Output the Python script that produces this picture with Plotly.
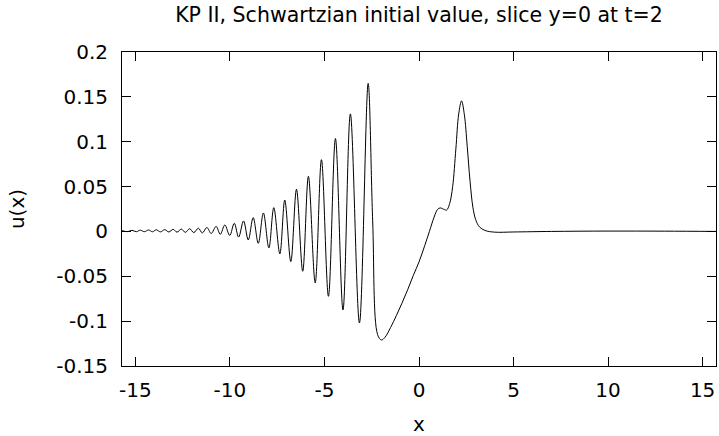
import math
import plotly.graph_objects as go

# ---- data (slice y=0 at t=2) ----
x_tail = [-15.708, -15.40, -15.18, -14.95, -14.74, -14.53, -14.30, -14.10, -13.90, -13.67,
          -13.45, -13.23, -13.00, -12.80, -12.57, -12.36, -12.13, -11.91, -11.67, -11.46,
          -11.22, -10.99, -10.73, -10.51, -10.27, -10.01, -9.77, -9.54, -9.28, -9.03,
          -8.77, -8.50, -8.23, -7.94, -7.68, -7.36, -7.10, -6.78, -6.48, -6.15,
          -5.85, -5.49, -5.16, -4.79, -4.42, -4.02, -3.63, -3.15, -2.69, -2.45,
          -2.19]
u_tail = [0.0008, -0.0002, 0.0012, -0.0003, 0.0014, -0.0003, 0.0016, -0.0004, 0.0018, -0.0005,
          0.0020, -0.0006, 0.0023, -0.0008, 0.0026, -0.0010, 0.0030, -0.0013, 0.0036, -0.0017,
          0.0044, -0.0023, 0.0056, -0.0032, 0.0072, -0.0045, 0.0091, -0.0063, 0.0117, -0.0095,
          0.0154, -0.0132, 0.0206, -0.0184, 0.0265, -0.0250, 0.0350, -0.0336, 0.0470, -0.0444,
          0.0615, -0.0574, 0.0800, -0.0723, 0.1035, -0.0875, 0.1310, -0.1020, 0.1650, 0.0117,
          -0.1150]
x_main = [-1.99, -1.80, -1.50, -1.20, -0.90, -0.60, -0.30, 0.00, 0.30, 0.55,
          0.80, 0.98, 1.12, 1.30, 1.46, 1.62, 1.78, 1.95, 2.10, 2.25,
          2.40, 2.55, 2.70, 2.85, 3.00, 3.20, 3.50, 4.00, 5.00, 7.00,
          10.00, 13.00, 15.708]
u_main = [-0.1210, -0.1180, -0.1070, -0.0940, -0.0800, -0.0650, -0.0490, -0.0340, -0.0160, 0.0000,
          0.0160, 0.0245, 0.0262, 0.0248, 0.0238, 0.0310, 0.0500, 0.0920, 0.1310, 0.1455,
          0.1300, 0.0950, 0.0560, 0.0270, 0.0130, 0.0050, 0.0010, -0.0008, -0.0006, 0.0000,
          0.0004, 0.0003, 0.0000]

x_vals = x_tail + x_main
u_vals = u_tail + u_main

x_ticks = [-15, -10, -5, 0, 5, 10, 15]
x_tick_labels = ["-15", "-10", "-5", "0", "5", "10", "15"]
y_ticks = [-0.15, -0.1, -0.05, 0, 0.05, 0.1, 0.15, 0.2]
y_tick_labels = ["-0.15", "-0.1", "-0.05", "0", "0.05", "0.1", "0.15", "0.2"]

FONT = "DejaVu Sans"
FS = 20

fig = go.Figure()
fig.add_trace(go.Scatter(
    x=x_vals, y=u_vals, mode="lines",
    line=dict(color="black", width=1, shape="spline", smoothing=1.0),
    showlegend=False, hoverinfo="skip",
))

axis_common = dict(
    showgrid=False, zeroline=False, showline=True, linecolor="black", linewidth=1,
    mirror="ticks", ticks="inside", ticklen=9, tickcolor="black", tickwidth=1,
    tickfont=dict(family=FONT, size=FS, color="black"), automargin=False,
)

fig.update_layout(
    width=719, height=436,
    margin=dict(l=122, r=3, t=52, b=70),
    paper_bgcolor="white", plot_bgcolor="white",
    font=dict(family=FONT, size=FS, color="black"),
    title=dict(text="KP II, Schwartzian initial value, slice y=0 at t=2",
               x=419 / 719, xanchor="center",
               y=1 - 15 / 436, yanchor="middle", yref="container",
               font=dict(family=FONT, size=20.5, color="black")),
    xaxis=dict(range=[-5 * math.pi, 5 * math.pi], tickvals=x_ticks, ticktext=x_tick_labels,
               ticklabelstandoff=6,
               title=dict(text="x", font=dict(family=FONT, size=FS), standoff=19),
               **axis_common),
    yaxis=dict(range=[-0.15, 0.2], tickvals=y_ticks, ticktext=y_tick_labels,
               ticklabelstandoff=9,
               title=dict(text="u(x)", font=dict(family=FONT, size=FS), standoff=26),
               **axis_common),
)

fig.write_html(
    "out.html",
    config={"displayModeBar": False, "staticPlot": True},
    post_script="document.body.style.margin='0';document.body.style.overflow='hidden';",
)
